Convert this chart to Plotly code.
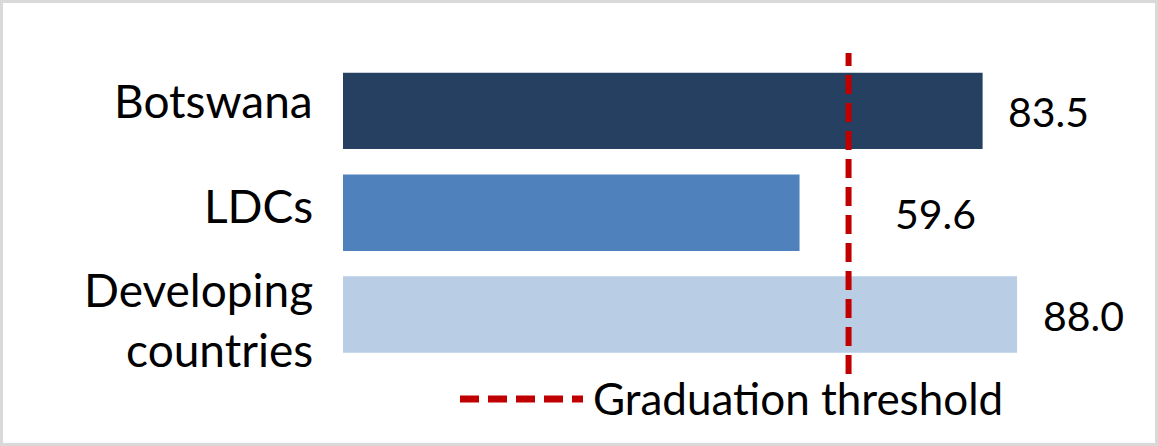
import plotly.graph_objects as go

categories = ["Botswana", "LDCs", "Developing<br>countries"]
values = [83.5, 59.6, 88.0]
value_labels = ["83.5", "59.6", "88.0"]
threshold = 66.0
threshold_label = "Graduation threshold"

bar_colors = ["#264061", "#4f81bd", "#b9cde5"]
label_xshift = [66, 136, 66]
cat_yshift = [10, 7, -5]
RED = "#c00000"
FONT = "Lato"

W, H = 1158, 446
ML, MR, MT, MB = 343, 0, 60, 77
PW, PH = W - ML - MR, H - MT - MB
PX_PER_UNIT = 7.66


def px(xp):
    return (xp - ML) / PW


def py(yp):
    return (H - MB - yp) / PH


fig = go.Figure()
fig.add_trace(go.Bar(
    y=categories, x=values, orientation="h",
    marker=dict(color=bar_colors, line=dict(width=0)),
    hoverinfo="skip", showlegend=False,
))

# category labels
for c, dy in zip(categories, cat_yshift):
    fig.add_annotation(x=0, y=c, xref="paper", yref="y", text=c, showarrow=False,
                       xanchor="right", yanchor="middle", align="right",
                       xshift=-28, yshift=dy,
                       font=dict(family=FONT, size=46, color="#000000"))

# value labels
for c, v, t, dx in zip(categories, values, value_labels, label_xshift):
    fig.add_annotation(x=v, y=c, xref="x", yref="y", text=t, showarrow=False,
                       xanchor="center", yanchor="middle", xshift=dx, yshift=-1,
                       font=dict(family=FONT, size=41, color="#000000"))

# threshold line
fig.add_shape(type="line", xref="x", yref="paper", x0=threshold, x1=threshold,
              y0=py(374), y1=py(53),
              line=dict(color=RED, width=6, dash="19px,9px"))

# manual legend
fig.add_shape(type="line", xref="paper", yref="paper", x0=px(460), x1=px(583),
              y0=py(399), y1=py(399),
              line=dict(color=RED, width=7, dash="19px,9px"))
fig.add_annotation(x=px(591), y=py(398), xref="paper", yref="paper",
                   text=threshold_label, showarrow=False, xanchor="left",
                   yanchor="middle",
                   font=dict(family=FONT, size=44, color="#000000"))

# outer frame
fig.add_shape(type="rect", xref="paper", yref="paper",
              x0=px(1.5), x1=px(W - 1.5), y0=py(H - 1.5), y1=py(1.5),
              line=dict(color="#d9d9d9", width=3), layer="above")

fig.update_layout(
    width=W, height=H, autosize=False,
    margin=dict(l=ML, r=MR, t=MT, b=MB, pad=0),
    paper_bgcolor="white", plot_bgcolor="white",
    bargap=0.25,
    xaxis=dict(range=[0, PW / PX_PER_UNIT], visible=False, fixedrange=True),
    yaxis=dict(autorange="reversed", showgrid=False, zeroline=False,
               showline=False, ticks="", showticklabels=False,
               fixedrange=True),
    font=dict(family=FONT),
)

fig.write_html("out.html", config={"displayModeBar": False},
               post_script="document.body.style.margin='0px';document.body.style.overflow='hidden';")
